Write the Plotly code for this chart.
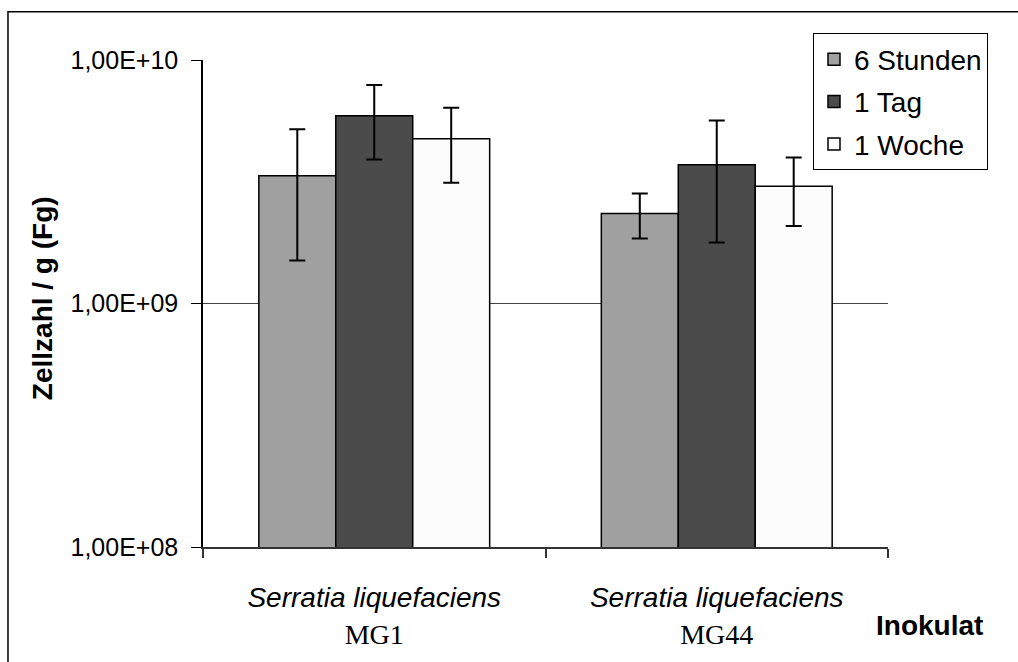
import plotly.graph_objects as go

categories = ["MG1", "MG44"]
species = "Serratia liquefaciens"
series_names = ["6 Stunden", "1 Tag", "1 Woche"]
values_6h = [3.35e9, 2.34e9]
errors_6h = [1.85e9, 0.49e9]
values_1d = [5.90e9, 3.71e9]
errors_1d = [2.00e9, 1.93e9]
values_1w = [4.75e9, 3.03e9]
errors_1w = [1.62e9, 0.95e9]
colors = ["#A0A0A0", "#4B4B4B", "#FCFCFC"]
y_tickvals = [1e8, 1e9, 1e10]
y_ticktext = ["1,00E+08", "1,00E+09", "1,00E+10"]

SANS = "Liberation Sans, Arial, sans-serif"

tick_text = [
    "<i>%s</i><br><span style=\"font-family:Liberation Serif\">%s</span>" % (species, c)
    for c in categories
]

fig = go.Figure()
for name, vals, errs, col in zip(series_names,
                                 [values_6h, values_1d, values_1w],
                                 [errors_6h, errors_1d, errors_1w],
                                 colors):
    fig.add_trace(go.Bar(
        x=categories, y=vals, name=name, legendgroup=name,
        marker=dict(color=col, line=dict(color="#000000", width=1.5)),
        error_y=dict(type="data", array=errs, visible=True,
                     color="#000000", thickness=2, width=8),
    ))

fig.update_layout(
    width=1018, height=662,
    margin=dict(l=203, r=130, t=60, b=107),
    paper_bgcolor="white", plot_bgcolor="white",
    barmode="group", bargap=0.326, bargroupgap=0,
    font=dict(family=SANS, color="#000000", size=24),
    showlegend=True,
    legend=dict(x=0.8905, y=1.0545, xanchor="left", yanchor="top",
                bgcolor="white", bordercolor="#000000", borderwidth=1,
                font=dict(family=SANS, size=28, color="#000000"),
                tracegroupgap=3, traceorder="grouped"),
    xaxis=dict(
        tickmode="array", tickvals=categories, ticktext=tick_text,
        tickson="boundaries", ticks="outside", ticklen=9, tickwidth=1.5,
        tickcolor="#333333",
        showline=True, linecolor="#333333", linewidth=1.5,
        showgrid=False, zeroline=False,
        tickfont=dict(family=SANS, size=28, color="#000000"),
        ticklabelstandoff=25,
    ),
    yaxis=dict(
        type="log", range=[8, 10],
        tickmode="array", tickvals=y_tickvals, ticktext=y_ticktext,
        ticks="outside", ticklen=10, tickwidth=1.2, tickcolor="#000000",
        showline=True, linecolor="#000000", linewidth=1.5,
        showgrid=True, gridcolor="#444444", gridwidth=1,
        zeroline=False,
        tickfont=dict(family=SANS, size=25, color="#000000"),
        ticklabelstandoff=8,
    ),
    shapes=[dict(type="rect", xref="paper", yref="paper",
                 x0=-0.2847, x1=1.25, y0=-0.3, y1=1.099,
                 line=dict(color="#000000", width=1.5), layer="below")],
    annotations=[
        dict(text="<b>Zellzahl / g (Fg)</b>", xref="paper", yref="paper",
             x=-0.235, y=0.511, textangle=-90, showarrow=False,
             font=dict(family=SANS, size=28, color="#000000"),
             xanchor="center", yanchor="middle"),
        dict(text="<b>Inokulat</b>", xref="paper", yref="paper",
             x=1.06, y=-0.162, showarrow=False,
             font=dict(family=SANS, size=28, color="#000000"),
             xanchor="center", yanchor="middle"),
    ],
)

fig.write_html("out.html")
